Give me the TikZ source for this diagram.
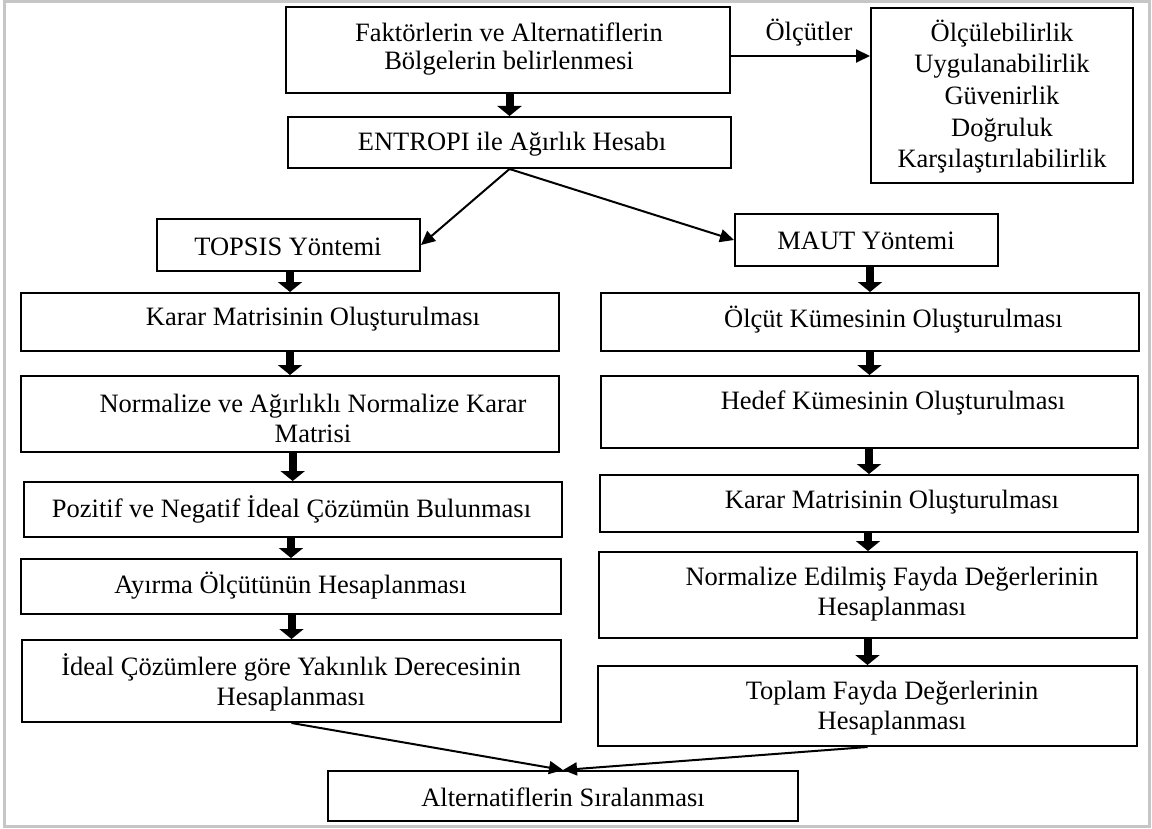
\documentclass[tikz,border=0pt]{standalone}
\usepackage{fontspec}
\setmainfont{Liberation Serif}
\usetikzlibrary{arrows.meta}
\begin{document}
\begin{tikzpicture}[x=0.5pt,y=-0.5pt,
  box/.style={draw, line width=1pt, inner sep=0pt},
  txt/.style={inner sep=0pt, align=center, font=\fontsize{13.25pt}{15pt}\selectfont},
  arr/.style={line width=1pt, -{Triangle[length=7pt,width=6.5pt]}},
  big/.style={line width=4pt, -{Triangle[length=5pt,width=12pt]}}]
\useasboundingbox (0,0) rectangle (1152,829);
\fill[white] (0,0) rectangle (1152,829);
\draw[line width=1.5pt, gray!45] (4,2) rectangle (1149,826);

% boxes
\node[box, minimum width=222pt, minimum height=43pt] (fakt) at (508,50) {};
\node[box, minimum width=221.5pt, minimum height=25.5pt] (entropi) at (509.5,142.5) {};
\node[box, minimum width=131pt, minimum height=87.5pt] (crit) at (1002,95.5) {};
\node[box, minimum width=131.5pt, minimum height=26pt] (topsis) at (288.5,245) {};
\node[box, minimum width=131.5pt, minimum height=26pt] (maut) at (866.5,240) {};
\node[box, minimum width=269pt, minimum height=29pt] (kararL) at (290,322) {};
\node[box, minimum width=269pt, minimum height=38pt] (normL) at (290,414) {};
\node[box, minimum width=269pt, minimum height=27.5pt] (poz) at (292.7,509.5) {};
\node[box, minimum width=270pt, minimum height=27.5pt] (ayir) at (291,586.5) {};
\node[box, minimum width=269.5pt, minimum height=41pt] (ideal) at (291.5,681) {};
\node[box, minimum width=269pt, minimum height=29pt] (olcut) at (870,322) {};
\node[box, minimum width=268.5pt, minimum height=36pt] (hedef) at (869.5,412) {};
\node[box, minimum width=269pt, minimum height=28.5pt] (kararR) at (869,503.5) {};
\node[box, minimum width=269pt, minimum height=43pt] (normR) at (868,595) {};
\node[box, minimum width=269.5pt, minimum height=40pt] (toplam) at (867.5,706) {};
\node[box, minimum width=235pt, minimum height=25pt] (alt) at (563,796) {};

% texts
\node[txt, font=\fontsize{13.25pt}{14pt}\selectfont] (fakt-t) at (509,49) {Faktörlerin ve Alternatiflerin\\Bölgelerin belirlenmesi};
\node[txt] (entropi-t) at (512,144) {ENTROPI ile Ağırlık Hesabı};
\node[txt, font=\fontsize{13.25pt}{15.85pt}\selectfont] (crit-t) at (1002,96.5) {Ölçülebilirlik\\Uygulanabilirlik\\Güvenirlik\\Doğruluk\\Karşılaştırılabilirlik};
\node[txt] (olc-t) at (809,33) {Ölçütler};
\node[txt] (topsis-t) at (288,247) {TOPSIS Yöntemi};
\node[txt] (maut-t) at (866,241) {MAUT Yöntemi};
\node[txt] (kararL-t) at (313,319) {Karar Matrisinin Oluşturulması};
\node[txt] (normL-t) at (313,418) {Normalize ve Ağırlıklı Normalize Karar\\Matrisi};
\node[txt] (poz-t) at (291.5,509) {Pozitif ve Negatif İdeal Çözümün Bulunması};
\node[txt] (ayir-t) at (290.5,586) {Ayırma Ölçütünün Hesaplanması};
\node[txt] (ideal-t) at (291,682) {İdeal Çözümlere göre Yakınlık Derecesinin\\Hesaplanması};
\node[txt] (olcut-t) at (893.5,320) {Ölçüt Kümesinin Oluşturulması};
\node[txt] (hedef-t) at (893,403) {Hedef Kümesinin Oluşturulması};
\node[txt] (kararR-t) at (892,502) {Karar Matrisinin Oluşturulması};
\node[txt] (normR-t) at (892,594) {Normalize Edilmiş Fayda Değerlerinin\\Hesaplanması};
\node[txt] (toplam-t) at (892,708) {Toplam Fayda Değerlerinin\\Hesaplanması};
\node[txt] (alt-t) at (563,797) {Alternatiflerin Sıralanması};

% thick arrows
\draw[big] (fakt.south -| entropi.north) -- (entropi.north);
\draw[big] (topsis.south -| kararL.north) -- (kararL.north);
\draw[big] (kararL.south) -- (normL.north);
\draw[big] (normL.south -| poz.north) -- (poz.north);
\draw[big] (poz.south -| ayir.north) -- (ayir.north);
\draw[big] (ayir.south -| ideal.north) -- (ideal.north);
\draw[big] (maut.south -| olcut.north) -- (olcut.north);
\draw[big] (olcut.south -| hedef.north) -- (hedef.north);
\draw[big] (hedef.south -| kararR.north) -- (kararR.north);
\draw[big] (kararR.south -| normR.north) -- (normR.north);
\draw[big] (normR.south -| toplam.north) -- (toplam.north);

% thin arrows
\draw[arr] ([yshift=-3pt]fakt.east) -- ([yshift=-3pt]fakt.east -| crit.west);
\draw[arr] (entropi.south) -- (topsis.east);
\draw[arr] (entropi.south) -- (maut.west);
\draw[arr] (ideal.south) -- (alt.north);
\draw[arr] (toplam.south) -- (alt.north);
\end{tikzpicture}
\end{document}
